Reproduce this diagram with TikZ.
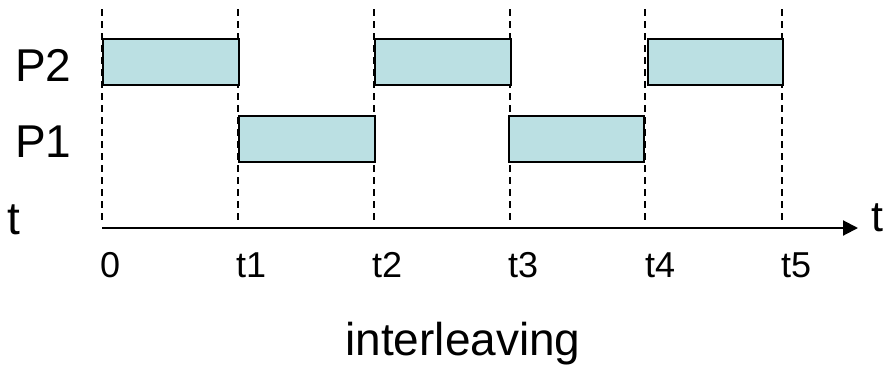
\documentclass[tikz,border=0pt]{standalone}
\usepackage{fontspec}
\setmainfont{Liberation Sans}
\usetikzlibrary{arrows.meta}
\definecolor{boxfill}{HTML}{BBE0E3}
\begin{document}
\begin{tikzpicture}[x=1pt,y=-1pt,
  slot/.style={draw=black,line width=1.8pt,fill=boxfill,inner sep=0pt,anchor=north west,minimum height=46pt},
  grid/.style={draw=black,line width=1.5pt,dash pattern=on 7pt off 5pt},
  big/.style={font=\fontsize{46}{46}\selectfont,inner sep=0pt,anchor=base west},
  tick/.style={font=\fontsize{36}{36}\selectfont,inner sep=0pt,anchor=base west},
  axis/.style={draw=black,line width=2pt,-{Triangle[length=15pt,width=15pt]}}]
\useasboundingbox (0,0) rectangle (888,365);
% dashed time markers
\foreach \n/\x in {a/102,b/238,c/374,d/510,e/645,f/782}{
  \coordinate (top\n) at (\x,9);
  \coordinate (bot\n) at (\x,220);
  \draw[grid] (top\n) -- (bot\n);
}
% process slots
\node[slot,minimum width=136pt] (p2a) at (102,38) {};
\node[slot,minimum width=136pt] (p1a) at (238,115) {};
\node[slot,minimum width=136pt] (p2b) at (374,38) {};
\node[slot,minimum width=135pt] (p1b) at (508,115) {};
\node[slot,minimum width=135pt] (p2c) at (647,38) {};
% axis
\coordinate (axstart) at (102,228);
\coordinate (axend) at (858,228);
\draw[axis] (axstart) -- (axend);
% labels
\node[big] (lp2) at (15,81) {P2};
\node[big] (lp1) at (15,157) {P1};
\node[big] (tleft) at (7,234) {t};
\node[big,font=\fontsize{43}{43}\selectfont] (tright) at (871,231) {t};
\node[tick] (l0) at (100,277) {0};
\node[tick] (l1) at (236,277) {t1};
\node[tick] (l2) at (372,277) {t2};
\node[tick] (l3) at (508,277) {t3};
\node[tick] (l4) at (645,277) {t4};
\node[tick] (l5) at (781,277) {t5};
\node[font=\fontsize{46}{46}\selectfont,inner sep=0pt,anchor=base] (cap) at (463,355) {interleaving};
\end{tikzpicture}
\end{document}
